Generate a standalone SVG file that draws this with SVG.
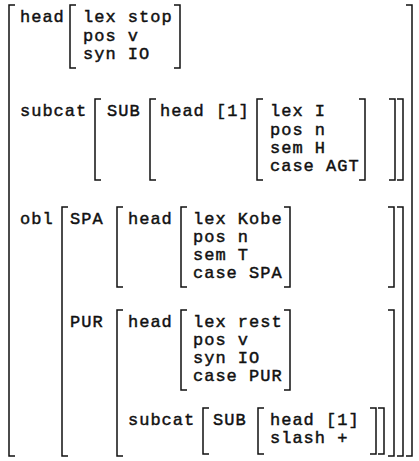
<svg xmlns="http://www.w3.org/2000/svg" width="419" height="461" viewBox="0 0 419 461">
<style>
.t{fill:#111;stroke:#111;stroke-width:0.45}
.b{fill:none;stroke:#111;stroke-width:1.5}
</style>
<rect width="419" height="461" fill="#fff"/>
<g id="brackets" class="b">
<path d="M15 5H9V456H15"/>
<path d="M406 5H412V456H406"/>
<path d="M76 5H70V68H76"/>
<path d="M174 5H180V68H174"/>
<path d="M101 99H95V180H101"/>
<path d="M156 99H150V180H156"/>
<path d="M263 99H257V180H263"/>
<path d="M359 99H365V180H359"/>
<path d="M389 99H395V180H389"/>
<path d="M397 99H403V180H397"/>
<path d="M68 207H62V456H68"/>
<path d="M123 207H117V287H123"/>
<path d="M187 207H181V287H187"/>
<path d="M284 207H290V287H284"/>
<path d="M388 207H394V287H388"/>
<path d="M397 207H403V456H397"/>
<path d="M123 310H117V456H123"/>
<path d="M187 310H181V390H187"/>
<path d="M284 310H290V390H284"/>
<path d="M388 310H394V456H388"/>
<path d="M209 408H203V454H209"/>
<path d="M264 408H258V454H264"/>
<path d="M370 408H376V454H370"/>
<path d="M378 408H384V454H378"/>
</g>
<g class="t" font-family="Liberation Mono, Courier New, monospace" font-size="17" letter-spacing="1">
<g id="top-head">
<text x="20" y="22">head</text>
<text x="83" y="22">lex stop</text>
<text x="83" y="41">pos v</text>
<text x="83" y="59">syn IO</text>
</g>
<g id="top-subcat">
<text x="20" y="116">subcat</text>
<text x="107" y="116">SUB</text>
<text x="160" y="116">head [1]</text>
<text x="270" y="116">lex I</text>
<text x="270" y="135">pos n</text>
<text x="270" y="153">sem H</text>
<text x="270" y="171">case AGT</text>
</g>
<g id="obl">
<text x="20" y="224">obl</text>
</g>
<g id="spa">
<text x="70" y="224">SPA</text>
<text x="128" y="224">head</text>
<text x="193" y="224">lex Kobe</text>
<text x="193" y="242">pos n</text>
<text x="193" y="260">sem T</text>
<text x="193" y="278">case SPA</text>
</g>
<g id="pur">
<text x="70" y="327">PUR</text>
<text x="128" y="327">head</text>
<text x="193" y="327">lex rest</text>
<text x="193" y="345">pos v</text>
<text x="193" y="363">syn IO</text>
<text x="193" y="381">case PUR</text>
<text x="128" y="425">subcat</text>
<text x="213" y="425">SUB</text>
<text x="270" y="425">head [1]</text>
<text x="270" y="443">slash +</text>
</g>
</g>
</svg>
